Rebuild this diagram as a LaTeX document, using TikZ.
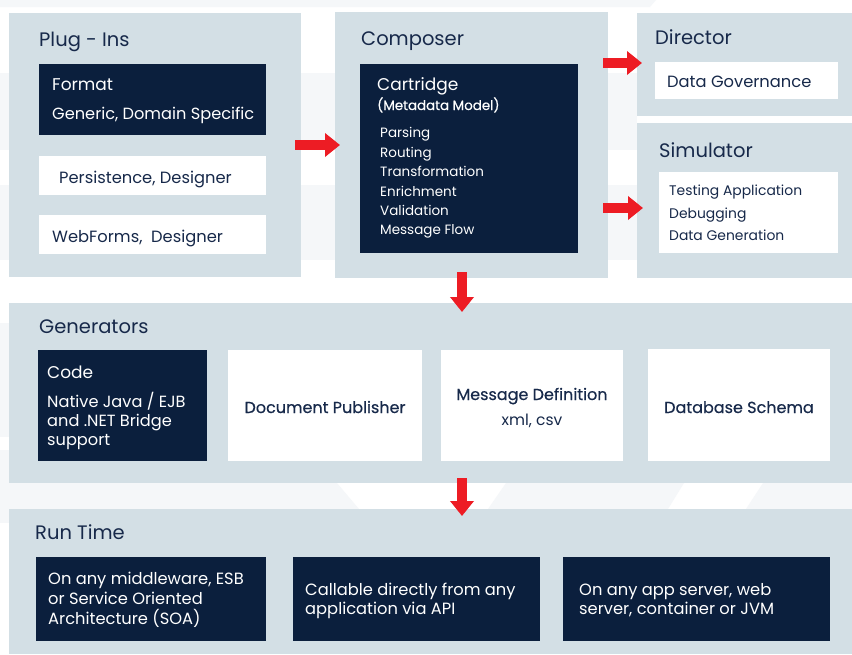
\documentclass[tikz,border=0pt]{standalone}
\usepackage{fontspec}
\setmainfont{Poppins}
\newfontfamily\medfont{Poppins}[FakeBold=0.4]
\usetikzlibrary{arrows.meta}
\definecolor{panelc}{HTML}{D3DFE5}
\definecolor{navyc}{HTML}{0B1F3D}
\definecolor{textc}{HTML}{17294A}
\definecolor{redc}{HTML}{ED1C24}
\definecolor{faintc}{HTML}{F5F7F9}
\begin{document}
\begin{tikzpicture}[x=1pt,y=-1pt,
  panel/.style={fill=panelc, draw=none, anchor=north west, inner sep=0pt, outer sep=0pt},
  darkbox/.style={fill=navyc, draw=none, anchor=north west, inner sep=0pt, outer sep=0pt},
  whitebox/.style={fill=white, draw=none, anchor=north west, inner sep=0pt, outer sep=0pt},
  ttl/.style={anchor=base west, inner sep=0pt, text=textc, font=\fontsize{19.5}{24}\selectfont},
  dhead/.style={anchor=base west, inner sep=0pt, text=white, font=\fontsize{17}{20}\selectfont},
  dtxt/.style={anchor=base west, inner sep=0pt, text=white, font=\fontsize{16.2}{19}\selectfont},
  ditem/.style={anchor=base west, inner sep=0pt, text=white, font=\fontsize{13.5}{16}\selectfont},
  wtxt/.style={anchor=base west, inner sep=0pt, text=textc, font=\fontsize{16.3}{19}\selectfont},
  witem/.style={anchor=base west, inner sep=0pt, text=textc, font=\fontsize{13.9}{16}\selectfont},
  wctr/.style={anchor=base, inner sep=0pt, text=textc, font=\medfont\fontsize{16}{19}\selectfont},
  wsub/.style={anchor=base, inner sep=0pt, text=textc, font=\fontsize{15.5}{19}\selectfont},
  rtxt/.style={anchor=base west, inner sep=0pt, text=white, font=\fontsize{16.3}{19}\selectfont},
  redarrow/.style={draw=redc, line width=9.5pt, -{Triangle[width=23pt,length=15pt]}}
]
\useasboundingbox (0,0) rectangle (852,654);
\fill[white] (0,0) rectangle (852,654);
% faint background shapes
\fill[faintc] (0,0) -- (656,0) -- (650,7) -- (0,7) -- cycle;
\fill[faintc] (0,73) rectangle (637,150);
\fill[faintc] (0,185) rectangle (637,260);
\fill[faintc] (0,323) rectangle (9,437);
\fill[faintc] (0,450) rectangle (9,523);
\fill[faintc] (0,483) -- (337,483) -- (359,509) -- (0,509) -- cycle;
\fill[faintc] (506,483) -- (684,483) -- (668,509) -- (488,509) -- cycle;
\fill[faintc] (763,483) -- (852,483) -- (852,509) -- (746,509) -- cycle;

% panels
\node[panel, minimum width=292pt, minimum height=264pt] (plug) at (9,13) {};
\node[panel, minimum width=273pt, minimum height=266pt] (composer) at (335,12) {};
\node[panel, minimum width=215pt, minimum height=103pt] (director) at (637,13) {};
\node[panel, minimum width=215pt, minimum height=155pt] (sim) at (637,123) {};
\node[panel, minimum width=843pt, minimum height=180pt] (gen) at (9,303) {};
\node[panel, minimum width=843pt, minimum height=145pt] (run) at (9,509) {};

% titles
\node[ttl] (tplug) at (39,46) {Plug - Ins};
\node[ttl] (tcomp) at (361,45) {Composer};
\node[ttl] (tdir) at (655,44) {Director};
\node[ttl] (tsim) at (659,157) {Simulator};
\node[ttl] (tgen) at (39,333) {Generators};
\node[ttl] (trun) at (35,539) {Run Time};

% plug-ins boxes
\node[darkbox, minimum width=227pt, minimum height=71pt] (format) at (39,64) {};
\node[dhead] (fmt1) at (52,90) {Format};
\node[dtxt] (fmt2) at (52,119) {Generic, Domain Specific};
\node[whitebox, minimum width=227pt, minimum height=39pt] (persist) at (39,156) {};
\node[wtxt] (pers) at (59,183) {Persistence,\ Designer};
\node[whitebox, minimum width=227pt, minimum height=39pt] (webf) at (39,215) {};
\node[wtxt] (webt) at (52,242) {WebForms,\ \ Designer};

% composer
\node[darkbox, minimum width=218pt, minimum height=189pt] (cart) at (360,64) {};
\node[dhead] (cart1) at (377,90) {Cartridge};
\node[anchor=base west, inner sep=0pt, text=white, font=\medfont\fontsize{13.4}{15}\selectfont] (cart2) at (377,110) {(Metadata Model)};
\node[ditem] (ci1) at (380,137) {Parsing};
\node[ditem] (ci2) at (380,157) {Routing};
\node[ditem] (ci3) at (380,176) {Transformation};
\node[ditem] (ci4) at (380,196) {Enrichment};
\node[ditem] (ci5) at (380,215) {Validation};
\node[ditem] (ci6) at (380,234) {Message Flow};

% director
\node[whitebox, minimum width=183pt, minimum height=37pt] (gov) at (655,62) {};
\node[wtxt] (govt) at (667,87) {Data Governance};

% simulator
\node[whitebox, minimum width=179pt, minimum height=81pt] (simbox) at (659,172) {};
\node[witem] (si1) at (669,195) {Testing Application};
\node[witem] (si2) at (669,218) {Debugging};
\node[witem] (si3) at (669,240) {Data Generation};

% generators
\node[darkbox, minimum width=169pt, minimum height=111pt] (code) at (38,350) {};
\node[dhead] (code1) at (47,378) {Code};
\node[dtxt] (code2) at (47,407) {Native Java / EJB};
\node[dtxt] (code3) at (47,426) {and .NET Bridge};
\node[dtxt] (code4) at (47,445) {support};
\node[whitebox, minimum width=194pt, minimum height=111pt] (docpub) at (228,350) {};
\node[wctr] (docpubt) at (325,413) {Document Publisher};
\node[whitebox, minimum width=182pt, minimum height=111pt] (msgdef) at (441,350) {};
\node[wctr] (msgdef1) at (532,400) {Message Definition};
\node[wsub] (msgdef2) at (532,425) {xml, csv};
\node[whitebox, minimum width=182pt, minimum height=112pt] (dbs) at (648,349) {};
\node[wctr] (dbst) at (739,413) {Database Schema};

% run time
\node[darkbox, minimum width=230pt, minimum height=84pt] (rt1) at (36,557) {};
\node[rtxt] (rt1a) at (48,584) {On any middleware, ESB};
\node[rtxt] (rt1b) at (48,604) {or Service Oriented};
\node[rtxt] (rt1c) at (48,624) {Architecture (SOA)};
\node[darkbox, minimum width=247pt, minimum height=84pt] (rt2) at (293,557) {};
\node[rtxt] (rt2a) at (305,595) {Callable directly from any};
\node[rtxt] (rt2b) at (305,614) {application via API};
\node[darkbox, minimum width=267pt, minimum height=84pt] (rt3) at (563,557) {};
\node[rtxt] (rt3a) at (579,595) {On any app server, web};
\node[rtxt] (rt3b) at (579,614) {server, container or JVM};

% arrows
\draw[redarrow, shorten <=-6pt, shorten >=-5pt] (plug.east) -- (composer.west);
\draw[redarrow, shorten <=-5pt, shorten >=-5pt] ([yshift=1.5pt]composer.east |- director.west) -- ([yshift=1.5pt]director.west);
\draw[redarrow, shorten <=-5pt, shorten >=-6pt] ([yshift=-7.5pt]composer.east |- sim.west) -- ([yshift=-7.5pt]sim.west);
\draw[redarrow, shorten <=-6pt, shorten >=-9pt] ([xshift=-9.5pt]composer.south) -- ([xshift=-9.5pt]composer.south |- gen.north);
\draw[redarrow, shorten <=-5pt, shorten >=-7pt] ([xshift=-9.5pt]composer.south |- gen.south) -- ([xshift=-9.5pt]composer.south |- run.north);
\end{tikzpicture}
\end{document}
